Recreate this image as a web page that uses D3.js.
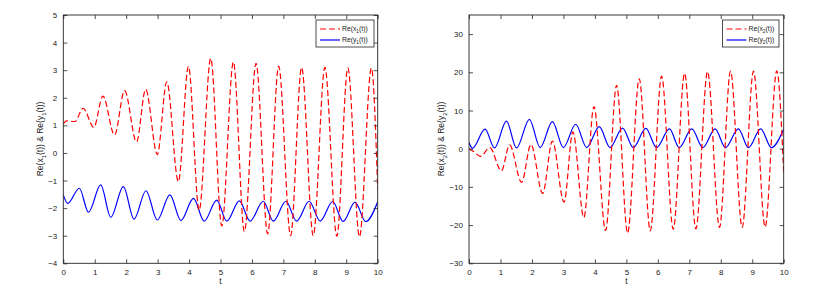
<!DOCTYPE html>
<html><head><meta charset="utf-8">
<script src="https://cdn.jsdelivr.net/npm/d3@7"></script>
<style>
html,body{margin:0;padding:0;background:#fff;}
svg{display:block;font-family:"Liberation Sans",Arial,Helvetica,sans-serif;}
</style>
</head><body>
<svg id="c" width="815" height="293"></svg>
<script>
// ---- data (t, value) ----
const x1T = [0,0.1,0.37,0.63,0.97,1.26,1.63,1.95,2.33,2.62,2.99,3.29,3.66,3.98,4.32,4.69,5.04,5.41,5.76,6.13,6.5,6.85,7.23,7.58,7.95,8.32,8.7,9.05,9.42,9.8,10];
const x1V = [1.05,1.16,1.14,1.62,0.93,2.06,0.65,2.26,0.4,2.31,-0.06,2.58,-1.04,3.14,-2.08,3.43,-2.65,3.3,-2.85,3.25,-2.93,3.15,-3.0,3.1,-3.0,3.1,-3.02,3.08,-3.04,3.08,-1.32];
const y1T = [0,0.14,0.51,0.8,1.19,1.51,1.91,2.25,2.63,2.99,3.39,3.74,4.14,4.48,4.88,5.2,5.6,5.94,6.36,6.68,7.08,7.42,7.82,8.17,8.57,8.9,9.28,9.62,10];
const y1V = [-1.52,-1.83,-1.28,-2.15,-1.16,-2.33,-1.22,-2.4,-1.37,-2.43,-1.52,-2.45,-1.65,-2.47,-1.71,-2.47,-1.74,-2.47,-1.75,-2.47,-1.75,-2.47,-1.75,-2.47,-1.76,-2.48,-1.78,-2.49,-1.77];

const x2T = [0,0.12,0.37,0.66,1.03,1.29,1.67,1.97,2.34,2.65,3.02,3.3,3.65,3.97,4.34,4.69,5.04,5.41,5.76,6.12,6.49,6.85,7.21,7.58,7.96,8.31,8.68,9.04,9.41,9.78,10];
const x2V = [0,-0.6,-2.0,0.3,-5.8,1.0,-8.8,1.1,-11.7,2.0,-14.0,4.4,-18.0,11.0,-21.4,16.6,-22.1,18.3,-21.5,19.0,-21.1,19.7,-21.0,20.2,-20.6,20.3,-20.6,20.3,-20.5,20.4,-6.5];
const y2T = [0,0.11,0.51,0.81,1.19,1.51,1.92,2.26,2.65,3.0,3.39,3.74,4.14,4.48,4.88,5.22,5.62,5.96,6.37,6.68,7.08,7.43,7.82,8.15,8.56,8.88,9.27,9.61,10];
const y2V = [1.6,0.1,5.1,0.2,7.2,0.2,7.7,0.3,7.1,0.3,6.4,0.3,5.8,0.3,5.4,0.3,5.3,0.3,5.2,0.3,5.2,0.3,5.2,0.3,5.2,0.3,5.2,0.3,5.1];

const xTicks = [0,1,2,3,4,5,6,7,8,9,10];
const yTicks1 = [-4,-3,-2,-1,0,1,2,3,4,5];
const yTicks2 = [-30,-20,-10,0,10,20,30];

const svg = d3.select("#c");

function subLabel(sel, parts, fs){
  parts.forEach(p=>{
    const ts = sel.append("tspan").text(p[0]);
    if(p[1]){ ts.attr("font-size", fs*0.7).attr("dy", fs*0.3); }
    else if(p[2]){ ts.attr("dy", -fs*0.3); }
  });
}

function panel(cfg){
  const g = svg.append("g");
  const x = d3.scaleLinear().domain([0,10]).range([cfg.x0, cfg.x1]);
  const y = d3.scaleLinear().domain(cfg.yDom).range([263.3, 15]);

  const line = d3.line().x(d=>x(d[0])).y(d=>y(d[1])).curve(d3.curveMonotoneX);
  const clipId = "clip"+cfg.id;
  svg.append("clipPath").attr("id",clipId).append("rect")
    .attr("x",cfg.x0).attr("y",15).attr("width",cfg.x1-cfg.x0).attr("height",263.3-15);
  const lg = g.append("g").attr("clip-path",`url(#${clipId})`);
  lg.append("path").datum(cfg.bT.map((t,i)=>[t,cfg.bV[i]]))
    .attr("d",line).attr("fill","none").attr("stroke","#0000ff").attr("stroke-width",1.2);
  lg.append("path").datum(cfg.rT.map((t,i)=>[t,cfg.rV[i]]))
    .attr("d",line).attr("fill","none").attr("stroke","#ff0000").attr("stroke-width",1.2)
    .attr("stroke-dasharray","6,3");

  const tl = 4;
  const gb = g.append("g").attr("transform",`translate(0,263.3)`)
    .call(d3.axisBottom(x).tickValues(xTicks).tickSizeInner(-tl).tickSizeOuter(0).tickPadding(6));
  const gt = g.append("g").attr("transform",`translate(0,15)`)
    .call(d3.axisTop(x).tickValues(xTicks).tickSizeInner(-tl).tickSizeOuter(0).tickFormat(""));
  const gl = g.append("g").attr("transform",`translate(${cfg.x0},0)`)
    .call(d3.axisLeft(y).tickValues(cfg.yTicks).tickSizeInner(-tl).tickSizeOuter(0).tickPadding(6));
  const gr = g.append("g").attr("transform",`translate(${cfg.x1},0)`)
    .call(d3.axisRight(y).tickValues(cfg.yTicks).tickSizeInner(-tl).tickSizeOuter(0).tickFormat(""));
  [gb,gt,gl,gr].forEach(a=>{
    a.selectAll("path.domain").remove();
    a.selectAll("line").attr("stroke","#222").attr("stroke-width",0.8);
    a.selectAll("text").attr("font-size",8).attr("fill","#222")
      .attr("font-family",'"Liberation Sans",Arial,sans-serif');
  });
  g.append("rect").attr("x",cfg.x0).attr("y",15).attr("width",cfg.x1-cfg.x0).attr("height",263.3-15)
    .attr("fill","none").attr("stroke","#222").attr("stroke-width",0.9);

  g.append("text").attr("x",(cfg.x0+cfg.x1)/2).attr("y",284).attr("text-anchor","middle")
    .attr("font-size",8.5).attr("fill","#222").text("t");
  const yl = g.append("text").attr("transform",`translate(${cfg.ylx},139) rotate(-90)`)
    .attr("text-anchor","middle").attr("font-size",8.5).attr("fill","#222");
  subLabel(yl, [["Re(x"],[cfg.n,true],["(t)) & Re(y",false,true],[cfg.n,true],["(t))",false,true]], 8.5);

  const L = cfg.leg;
  g.append("rect").attr("x",L.x).attr("y",20).attr("width",L.w).attr("height",27)
    .attr("fill","#fff").attr("stroke","#222").attr("stroke-width",0.8);
  g.append("line").attr("x1",L.x+4).attr("x2",L.x+24).attr("y1",29).attr("y2",29)
    .attr("stroke","#ff0000").attr("stroke-width",1.1).attr("stroke-dasharray","6,3");
  g.append("line").attr("x1",L.x+4).attr("x2",L.x+24).attr("y1",40).attr("y2",40)
    .attr("stroke","#0000ff").attr("stroke-width",1.2);
  const t1 = g.append("text").attr("x",L.x+26).attr("y",31).attr("font-size",6.8).attr("fill","#222");
  subLabel(t1, [["Re(x"],[cfg.n,true],["(t))",false,true]], 6.8);
  const t2 = g.append("text").attr("x",L.x+26).attr("y",42).attr("font-size",6.8).attr("fill","#222");
  subLabel(t2, [["Re(y"],[cfg.n,true],["(t))",false,true]], 6.8);
}

panel({id:1, x0:63.3, x1:377.7, yDom:[-4,5], yTicks:yTicks1, rT:x1T, rV:x1V, bT:y1T, bV:y1V,
  n:"1", ylx:43, leg:{x:316, w:58}});
panel({id:2, x0:469, x1:783.7, yDom:[-30,35], yTicks:yTicks2, rT:x2T, rV:x2V, bT:y2T, bV:y2V,
  n:"2", ylx:444, leg:{x:722.5, w:56.5}});
</script>
</body></html>
